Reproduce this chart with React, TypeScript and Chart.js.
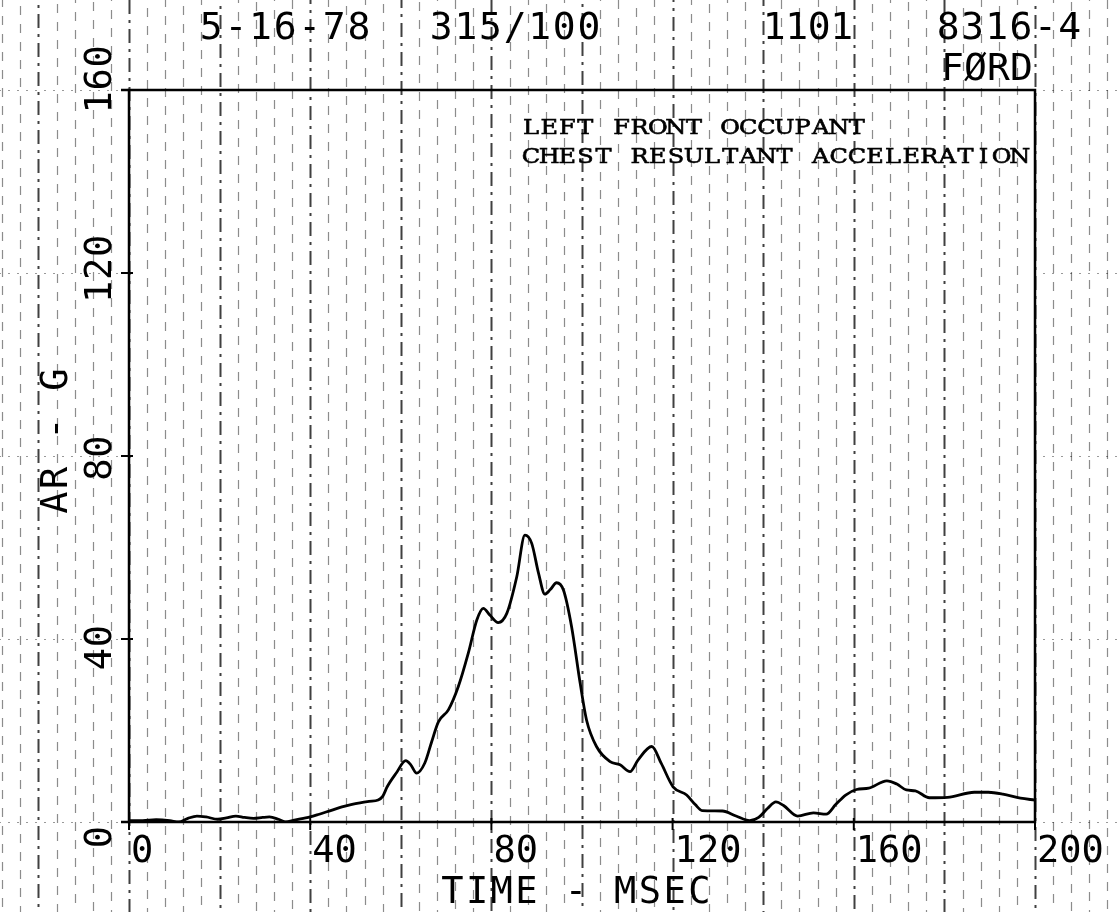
import React, { useEffect, useRef } from "react";
import { Chart, registerables } from "chart.js";

Chart.register(...registerables);

// ---- data ----
const timeMs = [
  0, 3, 6, 9, 11, 13, 15, 17, 19.6, 21.5, 23.6, 25.5, 27.5, 29.5, 31, 33, 34.6, 36.5, 38.5, 40,
  42, 44.5, 47, 49, 51, 53, 55, 56, 57, 59, 61.1, 62.2, 63.5, 65.3, 66.8, 68.3, 70.5, 72.7, 74.9,
  76.8, 78.2, 79.7, 81.5, 83.4, 85.6, 87.4, 88.9, 90.4, 91.8, 93, 94.4, 95.9, 97.7, 99.6, 101,
  103.2, 106.2, 108.4, 110.6, 112.4, 115.4, 117.5, 120.1, 123.1, 125, 126.5, 131, 134, 137, 139,
  141, 142.8, 144.5, 147.6, 151.1, 153.9, 156, 158.2, 160.6, 163.3, 167.3, 169.5, 171.6, 173.6,
  176.7, 180.7, 186.6, 189.7, 192.9, 196.8, 200,
];
const accelG = [
  0.3, 0.3, 0.5, 0.3, 0.0, 0.8, 1.3, 1.1, 0.6, 0.9, 1.3, 1.0, 0.8, 1.0, 1.1, 0.6, 0.0, 0.4, 0.8, 1.1,
  1.7, 2.5, 3.3, 3.8, 4.2, 4.5, 4.8, 5.6, 7.7, 10.7, 13.4, 12.5, 10.7, 12.9, 17.5, 21.9, 24.5, 29.6, 36.9,
  44.2, 46.7, 45.2, 43.6, 45.6, 53.6, 62.7, 60.9, 54.4, 49.8, 50.8, 52.3, 50.7, 42.7, 30.3, 22.3,
  16.5, 13.2, 12.5, 11.0, 13.6, 16.5, 12.8, 7.7, 5.9, 3.8, 2.5, 2.4, 1.3, 0.3, 1.0,
  3.0, 4.4, 3.6, 1.3, 2.0, 1.7, 3.8, 5.9, 7.1, 7.4, 9.0, 8.3, 7.0, 6.8,
  5.3, 5.4, 6.5, 6.5, 6.1, 5.2, 4.8,
];
const xTickValues = [0, 40, 80, 120, 160, 200];
const yTickValues = [0, 40, 80, 120, 160];
const headerTexts = ["5-16-78", "315/100", "1101", "8316-4", "FØRD"];
const noteLines = ["LEFT FRONT OCCUPANT", "CHEST RESULTANT ACCELERATION"];
const xTitle = "TIME - MSEC";
const yTitle = "AR - G";
const paperStepMs = 4;
const paperHeavyMs = 20;

// ---- layout / style ----
const W = 1118;
const H = 912;
const MONO = "'DejaVu Sans Mono', monospace";
const headerPos: [number, number, number][] = [
  [199, 39, 24.6],
  [429, 39, 24.6],
  [763, 39, 22.5],
  [936, 39, 24.3],
  [941, 80, 23],
];

function drawSpaced(
  ctx: CanvasRenderingContext2D,
  text: string,
  x: number,
  y: number,
  pitch: number,
  sx = 1,
  strokeW = 0
) {
  ctx.textAlign = "center";
  for (let i = 0; i < text.length; i++) {
    const cx = x + pitch * (i + 0.5);
    ctx.save();
    ctx.translate(cx, y);
    if (sx !== 1) ctx.scale(sx, 1);
    ctx.fillText(text[i], 0, 0);
    if (strokeW > 0) {
      ctx.lineWidth = strokeW;
      ctx.strokeText(text[i], 0, 0);
    }
    ctx.restore();
  }
}

function drawRotated(ctx: CanvasRenderingContext2D, text: string, cx: number, cy: number, pitch: number, capH: number) {
  ctx.save();
  ctx.translate(cx, cy);
  ctx.rotate(-Math.PI / 2);
  ctx.textBaseline = "alphabetic";
  drawSpaced(ctx, text, -(pitch * text.length) / 2, capH / 2, pitch);
  ctx.restore();
}

const paperPlugin = {
  id: "paper",
  beforeDraw(chart: any) {
    const ctx: CanvasRenderingContext2D = chart.ctx;
    const xs = chart.scales.x;
    const ys = chart.scales.y;
    ctx.save();
    ctx.fillStyle = "#fff";
    ctx.fillRect(0, 0, W, H);
    // vertical paper lines
    for (let ms = -28; ms <= 220; ms += paperStepMs) {
      const x = Math.round(xs.getPixelForValue(ms)) + 0.5;
      const heavy = ms % paperHeavyMs === 0;
      ctx.beginPath();
      ctx.strokeStyle = heavy ? "rgba(0,0,0,0.75)" : "rgba(0,0,0,0.45)";
      ctx.lineWidth = heavy ? 2 : 1.2;
      ctx.setLineDash(heavy ? [14, 6, 3, 6] : [9, 9]);
      ctx.lineDashOffset = (ms * 7) % 18;
      ctx.moveTo(x, 0);
      ctx.lineTo(x, H);
      ctx.stroke();
    }
    // faint horizontal dotted lines at y ticks
    ctx.setLineDash([2, 7]);
    ctx.lineWidth = 1.2;
    ctx.strokeStyle = "rgba(0,0,0,0.4)";
    for (const v of yTickValues) {
      const y = Math.round(ys.getPixelForValue(v)) + 0.5;
      ctx.beginPath();
      ctx.moveTo(0, y);
      ctx.lineTo(chart.chartArea.left, y);
      ctx.moveTo(chart.chartArea.right, y);
      ctx.lineTo(W, y);
      ctx.stroke();
    }
    ctx.restore();
  },
  afterDraw(chart: any) {
    const ctx: CanvasRenderingContext2D = chart.ctx;
    const a = chart.chartArea;
    const xs = chart.scales.x;
    const ys = chart.scales.y;
    ctx.save();
    ctx.setLineDash([]);
    ctx.strokeStyle = "#000";
    ctx.fillStyle = "#000";
    ctx.lineWidth = 2.5;
    ctx.strokeRect(a.left, a.top, a.right - a.left, a.bottom - a.top);
    ctx.beginPath();
    ctx.moveTo(a.left - 8, a.top);
    ctx.lineTo(a.left, a.top);
    ctx.moveTo(a.left - 8, a.bottom);
    ctx.lineTo(a.left, a.bottom);
    ctx.stroke();

    // tick marks
    ctx.lineWidth = 2;
    for (const v of xTickValues) {
      const x = xs.getPixelForValue(v);
      ctx.beginPath();
      ctx.moveTo(x, a.bottom - 4);
      ctx.lineTo(x, a.bottom + 8);
      ctx.stroke();
    }
    for (const v of yTickValues) {
      const y = ys.getPixelForValue(v);
      ctx.beginPath();
      ctx.moveTo(a.left - 8, y);
      ctx.lineTo(a.left + 4, y);
      ctx.stroke();
    }

    // x tick labels
    ctx.font = `37px ${MONO}`;
    ctx.textBaseline = "alphabetic";
    ctx.textAlign = "left";
    for (const v of xTickValues) {
      const x = xs.getPixelForValue(v);
      ctx.fillText(String(v), x + 2, a.bottom + 40);
    }
    // y tick labels (rotated)
    for (const v of yTickValues) {
      const py = ys.getPixelForValue(v);
      const cy = a.bottom - (a.bottom - py) * 1.035 + 15;
      drawRotated(ctx, String(v), 97, cy, 23, 27);
    }
    // axis titles
    ctx.font = `37px ${MONO}`;
    drawSpaced(ctx, xTitle, 440, 903, 24.7);
    drawRotated(ctx, yTitle, 53, 441, 24.6, 28);

    // header texts
    ctx.font = `38px ${MONO}`;
    headerTexts.forEach((t, i) => {
      const [x, y, p] = headerPos[i];
      drawSpaced(ctx, t, x, y, p);
    });

    // annotation
    ctx.font = `20px 'DejaVu Serif', serif`;
    noteLines.forEach((t, i) => {
      drawSpaced(ctx, t, 522, 134 + i * 29, 18.1, 1.2, 0.6);
    });
    ctx.restore();
  },
};

export default function App() {
  const ref = useRef<HTMLCanvasElement | null>(null);
  useEffect(() => {
    if (!ref.current) return;
    const chart = new Chart(ref.current, {
      type: "line",
      data: {
        datasets: [
          {
            data: timeMs.map((t, i) => ({ x: t, y: accelG[i] })),
            borderColor: "#000",
            borderWidth: 2.8,
            pointRadius: 0,
            cubicInterpolationMode: "monotone",
            fill: false,
          },
        ],
      },
      options: {
        animation: false,
        responsive: false,
        devicePixelRatio: 1,
        layout: { padding: { left: 129, right: 83, top: 90, bottom: 90 } },
        plugins: { legend: { display: false }, tooltip: { enabled: false }, title: { display: false } },
        scales: {
          x: { type: "linear", min: 0, max: 200, display: false },
          y: { type: "linear", min: 0, max: 160, display: false },
        },
      },
      plugins: [paperPlugin],
    });
    return () => chart.destroy();
  }, []);
  return (
    <div style={{ position: "absolute", left: 0, top: 0, width: W, height: H, background: "#fff" }}>
      <canvas ref={ref} width={W} height={H} style={{ display: "block" }} />
    </div>
  );
}
